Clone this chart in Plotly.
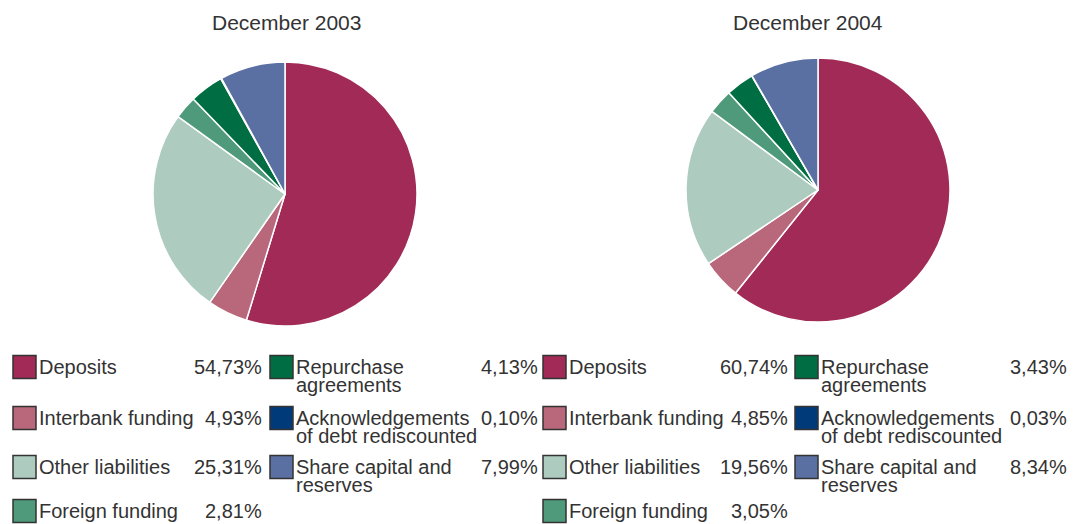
import plotly.graph_objects as go

W, H = 1080, 524
OFF = 8  # page body margin

categories = ["Deposits", "Interbank funding", "Other liabilities", "Foreign funding",
              "Repurchase agreements", "Acknowledgements of debt rediscounted",
              "Share capital and reserves"]
legend_labels = [["Deposits"], ["Interbank funding"], ["Other liabilities"], ["Foreign funding"],
                 ["Repurchase", "agreements"], ["Acknowledgements", "of debt rediscounted"],
                 ["Share capital and", "reserves"]]
values_2003 = [54.73, 4.93, 25.31, 2.81, 4.13, 0.10, 7.99]
values_2004 = [60.74, 4.85, 19.56, 3.05, 3.43, 0.03, 8.34]
colors = ["#A12B56", "#B9677B", "#ADCCBF", "#4E9A7A", "#006E42", "#003A78", "#5A70A3"]
titles = ["December 2003", "December 2004"]

TEXT = "#333333"
FONT = "Liberation Sans"

def px_x(x):
    return (x - OFF) / W

def px_y(y):
    return 1 - (y - OFF) / H

fig = go.Figure()

pies = [
    dict(vals=values_2003, cx=285, cy=194, r=132, title=titles[0], tx=286),
    dict(vals=values_2004, cx=818, cy=190, r=132, title=titles[1], tx=808),
]
for p in pies:
    fig.add_trace(go.Pie(
        labels=categories, values=p["vals"], sort=False, direction="clockwise",
        rotation=0, textinfo="none", hoverinfo="label+value",
        marker=dict(colors=colors, line=dict(color="white", width=1.5)),
        domain=dict(x=[px_x(p["cx"] - p["r"]), px_x(p["cx"] + p["r"])],
                    y=[px_y(p["cy"] + p["r"]), px_y(p["cy"] - p["r"])]),
        showlegend=False,
    ))

annotations = []
shapes = []

for p in pies:
    annotations.append(dict(x=px_x(p["tx"]), y=px_y(23), xref="paper", yref="paper",
                            text=p["title"], showarrow=False, xanchor="center", yanchor="middle",
                            font=dict(family=FONT, size=21, color=TEXT)))

row_y = [367, 418, 467, 511]
blocks = [
    dict(vals=values_2003, cols=[(13, 262, [0, 1, 2, 3]), (270, 538, [4, 5, 6])]),
    dict(vals=values_2004, cols=[(543, 788, [0, 1, 2, 3]), (795, 1067, [4, 5, 6])]),
]
sw = 23
LINE = 18
for b in blocks:
    for (sx, pr, idxs) in b["cols"]:
        for r, i in enumerate(idxs):
            yc = row_y[r]
            shapes.append(dict(type="rect", xref="paper", yref="paper",
                               x0=px_x(sx), x1=px_x(sx + sw),
                               y0=px_y(yc + sw / 2), y1=px_y(yc - sw / 2),
                               fillcolor=colors[i], line=dict(color="#333333", width=1.5)))
            for k, line in enumerate(legend_labels[i]):
                annotations.append(dict(x=px_x(sx + sw + 1), y=px_y(yc + k * LINE), xref="paper", yref="paper",
                                        text=line, showarrow=False,
                                        xanchor="left", yanchor="middle", align="left",
                                        font=dict(family=FONT, size=20, color=TEXT)))
            annotations.append(dict(x=px_x(pr + 2), y=px_y(yc), xref="paper", yref="paper",
                                    text=f"{b['vals'][i]:.2f}".replace(".", ",") + "%",
                                    showarrow=False, xanchor="right", yanchor="middle",
                                    font=dict(family=FONT, size=20, color=TEXT)))

fig.update_layout(width=W, height=H, margin=dict(l=0, r=0, t=0, b=0),
                  paper_bgcolor="white", plot_bgcolor="white",
                  annotations=annotations, shapes=shapes)

fig.write_html("out.html")
